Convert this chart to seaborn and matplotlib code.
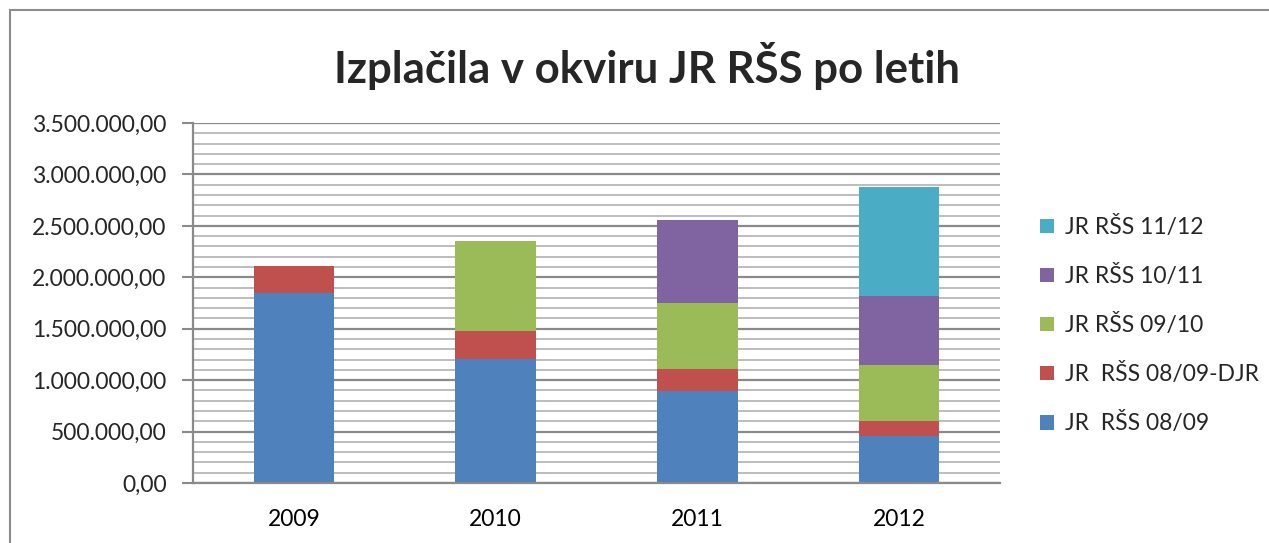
import numpy as np
import pandas as pd
import matplotlib
matplotlib.use('Agg')
import matplotlib.pyplot as plt
import seaborn as sns
from matplotlib.patches import Patch, Rectangle
from matplotlib.ticker import MultipleLocator, FuncFormatter

# Data (EUR per year, by tender)
years = ['2009', '2010', '2011', '2012']
series_names = ['JR  RŠS 08/09', 'JR  RŠS 08/09-DJR', 'JR RŠS 09/10', 'JR RŠS 10/11', 'JR RŠS 11/12']
rss_0809 = [1852000, 1202000, 893000, 454000]
rss_0809_djr = [257000, 276000, 215000, 144000]
rss_0910 = [0, 875000, 640000, 549000]
rss_1011 = [0, 0, 809000, 672000]
rss_1112 = [0, 0, 0, 1060000]
colors = ['#4F81BD', '#C0504D', '#9BBB59', '#8064A2', '#4BACC6']

df = pd.DataFrame({'Leto': years})
for name, vals in zip(series_names, [rss_0809, rss_0809_djr, rss_0910, rss_1011, rss_1112]):
    df[name] = vals
cum = df[series_names].cumsum(axis=1)

sns.set_style('white')
plt.rcParams['font.family'] = ['Lato', 'DejaVu Sans']

fig = plt.figure(figsize=(12.69, 5.43), dpi=100)
ax = fig.add_axes([193 / 1269, 1 - 483 / 543, 807 / 1269, 360 / 543])

# outer chart frame
fig.patches.append(Rectangle((10 / 1269, -0.1), 1.2, 1 - 10 / 543 + 0.1, transform=fig.transFigure,
                             fill=False, edgecolor='#8c8c8c', linewidth=1.5))

# stacked bars: draw cumulative totals from the top layer down
for name, col in reversed(list(zip(series_names, colors))):
    sns.barplot(x=df['Leto'], y=cum[name], color=col, width=0.4, ax=ax,
                saturation=1, linewidth=0, zorder=3)

ax.set_ylim(0, 3500000)
ax.set_xlim(-0.5, 3.5)
ax.yaxis.set_major_locator(MultipleLocator(500000))
ax.yaxis.set_minor_locator(MultipleLocator(100000))
ax.grid(which='minor', axis='y', color='#bdbdbd', linewidth=1.4, zorder=0)
ax.grid(which='major', axis='y', color='#8a8a8a', linewidth=1.6, zorder=1)
ax.set_axisbelow(True)


def fmt(v, pos):
    s = f'{v:,.2f}'
    return s.replace(',', 'X').replace('.', ',').replace('X', '.')


ax.yaxis.set_major_formatter(FuncFormatter(fmt))
ax.set_xticks(np.arange(4))
ax.set_xticklabels(years)
ax.set_xticks(np.arange(-0.5, 4, 1), minor=True)
ax.tick_params(axis='x', which='major', length=0, labelsize=16.5, pad=19, colors='black')
ax.tick_params(axis='x', which='minor', length=8, width=1.5, color='#8a8a8a', direction='out')
ax.tick_params(axis='y', which='major', length=8, width=1.5, color='#8a8a8a', labelsize=16.5,
               pad=11, direction='out', left=True)
ax.tick_params(axis='y', which='minor', length=0)
for s in ['top', 'right']:
    ax.spines[s].set_visible(False)
for s in ['left', 'bottom']:
    ax.spines[s].set_color('#8a8a8a')
    ax.spines[s].set_linewidth(1.6)
    ax.spines[s].set_zorder(5)
ax.set_xlabel('')
ax.set_ylabel('')

fig.text(0.51, 1 - 66 / 543, 'Izplačila v okviru JR RŠS po letih', ha='center', va='center',
         fontsize=31.5, fontweight='bold')

handles = [Patch(facecolor=c, edgecolor='none') for c in reversed(colors)]
fig.legend(handles, list(reversed(series_names)), loc='upper left',
           bbox_to_anchor=(1040 / 1269, 1 - 216 / 543), frameon=False, fontsize=16.5,
           handlelength=0.62, handleheight=0.62, handletextpad=0.45, labelspacing=1.18,
           borderpad=0, borderaxespad=0)

fig.savefig('out.png', dpi=100)
